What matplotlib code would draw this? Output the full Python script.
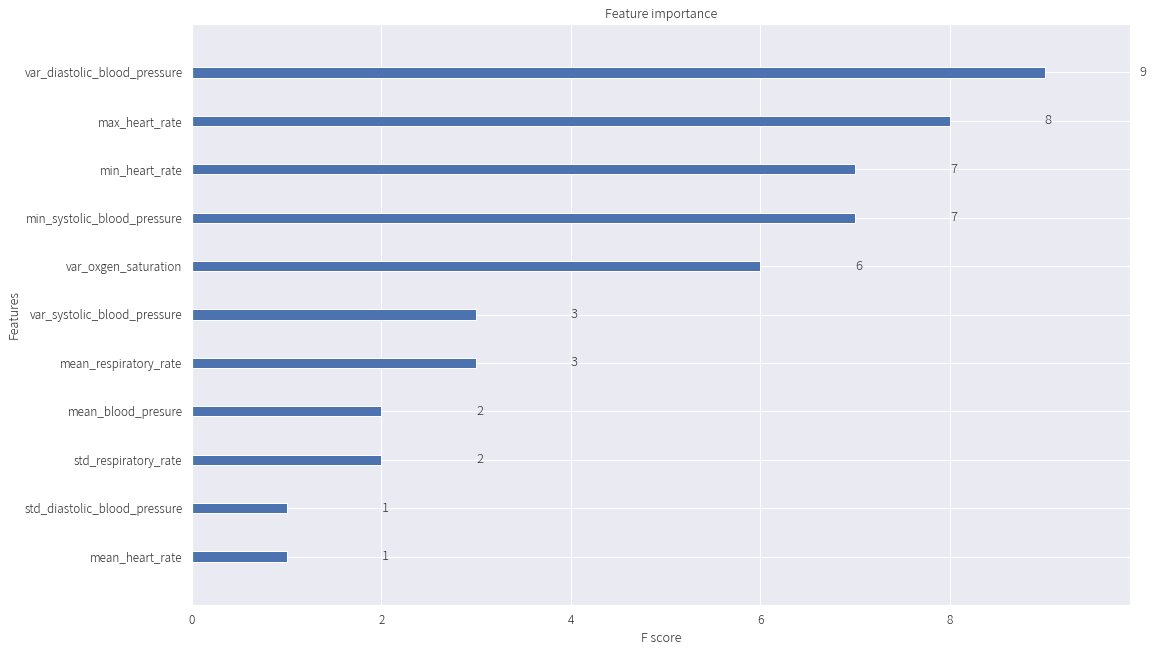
import matplotlib
matplotlib.use('Agg')
import matplotlib.pyplot as plt
import seaborn as sns

features = ['mean_heart_rate', 'std_diastolic_blood_pressure', 'std_respiratory_rate',
            'mean_blood_presure', 'mean_respiratory_rate', 'var_systolic_blood_pressure',
            'var_oxgen_saturation', 'min_systolic_blood_pressure', 'min_heart_rate',
            'max_heart_rate', 'var_diastolic_blood_pressure']
scores = [1, 1, 2, 2, 3, 3, 6, 7, 7, 8, 9]

sns.set_theme(style='darkgrid')
plt.rcParams['font.family'] = ['Noto Sans CJK JP', 'DejaVu Sans']
plt.rcParams['font.weight'] = 'light'
plt.rcParams['axes.titleweight'] = 'light'
plt.rcParams['axes.labelweight'] = 'light'

fig = plt.figure(figsize=(1155/72, 650/72), dpi=72)
ax = fig.add_axes([192/1155, 1-605/650, (1130-192)/1155, (605-24)/650])

ylocs = list(range(len(scores)))
ax.barh(ylocs, scores, height=0.21, align='center', color='#4C72B0', edgecolor='white')
for x, y in zip(scores, ylocs):
    ax.text(x + 1, y, str(x), va='center', fontsize=13, color='#333333', clip_on=False)

ax.set_yticks(ylocs)
ax.set_yticklabels(features)
ax.set_xlim(0, max(scores) * 1.1)
ax.set_ylim(-1, len(scores))
ax.set_title('Feature importance', fontsize=12.6)
ax.set_xlabel('F score', fontsize=12.6)
ax.set_ylabel('Features', fontsize=12.6)
ax.tick_params(labelsize=11.8)

fig.savefig('out.png', dpi=72)
